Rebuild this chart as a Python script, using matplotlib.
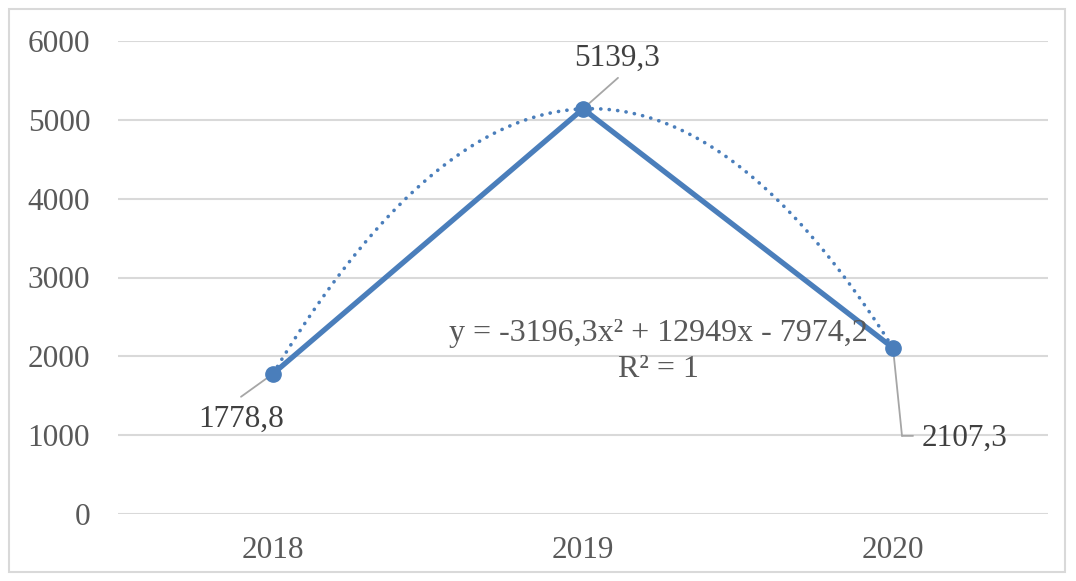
import numpy as np
import matplotlib.pyplot as plt
from matplotlib.patches import Rectangle
from matplotlib.transforms import offset_copy

years = ['2018', '2019', '2020']
values = [1778.8, 5139.3, 2107.3]
value_labels = ['1778,8', '5139,3', '2107,3']
equation = 'y = -3196,3x² + 12949x - 7974,2'
r_squared = 'R² = 1'

plt.rcParams['font.family'] = ['Liberation Serif', 'DejaVu Serif']

blue = '#4A7EBB'
grid_col = '#D9D9D9'
lead_col = '#A6A6A6'

x = np.arange(1, len(values) + 1)

fig = plt.figure(figsize=(10.76, 5.81), dpi=100)
fig.patches.append(Rectangle((9 / 1076, 9 / 581), 1056 / 1076, 563 / 581,
                             transform=fig.transFigure, fill=False,
                             edgecolor='#D9D9D9', linewidth=1.5))
ax = fig.add_axes([118 / 1076, 67 / 581, 930 / 1076, 473 / 581])

# polynomial trendline (2nd order) through the points
coef = np.polyfit(x, values, 2)
xs = np.linspace(1, 3, 300)
ax.plot(xs, np.polyval(coef, xs), color=blue, linewidth=2.6,
        linestyle=(0, (0.05, 2.3)), dash_capstyle='round', zorder=2)

ax.plot(x, values, color=blue, linewidth=3.8, marker='o', markersize=11,
        solid_capstyle='round', zorder=3)

ax.set_xlim(0.5, 3.5)
ax.set_ylim(0, 6000)
ax.set_yticks(range(0, 6001, 1000))
ax.set_xticks(x)
ax.set_xticklabels(years)
ax.tick_params(axis='both', length=0, labelsize=22.5, labelcolor='#595959')
ax.tick_params(axis='y', pad=20)
ax.tick_params(axis='x', pad=16)
ax.grid(axis='y', color=grid_col, linewidth=1.5)
ax.set_axisbelow(True)
for s in ax.spines.values():
    s.set_visible(False)


def leader(xv, yv, start, end):
    # straight leader line between two pixel offsets from a data point
    base = offset_copy(ax.transData, fig=fig, x=start[0], y=start[1], units='dots')
    ax.annotate('', xy=(xv, yv), xycoords=base,
                xytext=(end[0] - start[0], end[1] - start[1]),
                textcoords='offset pixels',
                arrowprops=dict(arrowstyle='-', color=lead_col, linewidth=1.3,
                                shrinkA=0, shrinkB=0), zorder=1)


def label(xv, yv, text, off, ha):
    ax.annotate(text, xy=(xv, yv), xytext=off, textcoords='offset pixels',
                ha=ha, va='center', fontsize=22.5, color='#404040')


leader(x[0], values[0], (0, 0), (-32, -23))
label(x[0], values[0], value_labels[0], (-32, -46), 'center')

leader(x[1], values[1], (0, 0), (35, 31))
label(x[1], values[1], value_labels[1], (34, 51), 'center')

leader(x[2], values[2], (0, 0), (9, -88))
leader(x[2], values[2], (9, -88), (20, -88))
label(x[2], values[2], value_labels[2], (29, -90), 'left')

ax.text(2.242, 2290, equation, ha='center', va='center', fontsize=23,
        color='#595959')
ax.text(2.242, 1830, r_squared, ha='center', va='center', fontsize=23,
        color='#595959')

fig.savefig('out.png', dpi=100)
